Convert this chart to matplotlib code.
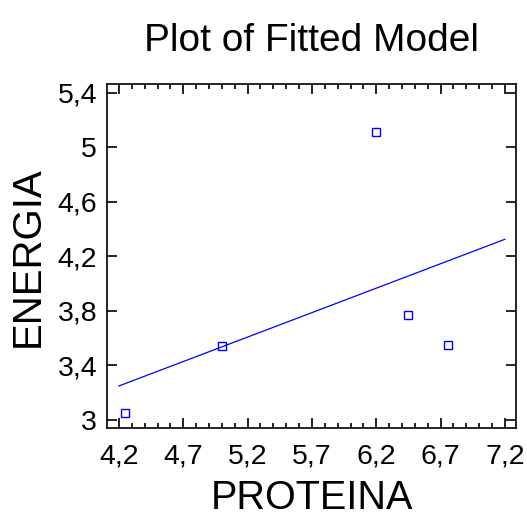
import numpy as np
import matplotlib
matplotlib.use("Agg")
import matplotlib.pyplot as plt
from matplotlib.ticker import FuncFormatter, MultipleLocator

plt.rcParams["font.family"] = ["Liberation Sans", "DejaVu Sans"]

# datos observados
proteina = [4.25, 5.0, 6.2, 6.45, 6.76]
energia = [3.05, 3.54, 5.11, 3.77, 3.55]

# recta ajustada (extremos)
fit_x = [4.2, 7.2]
fit_y = [3.25, 4.325]

x_ticks = [4.2, 4.7, 5.2, 5.7, 6.2, 6.7, 7.2]
y_ticks = [3.0, 3.4, 3.8, 4.2, 4.6, 5.0, 5.4]

fig = plt.figure(figsize=(5.27, 5.18), dpi=100)
ax = fig.add_axes([0.203, 0.173, 0.777, 0.665])

ax.plot(fit_x, fit_y, color="#0000ff", lw=0.9)
ax.plot(proteina, energia, ls="none", marker="s", ms=5.5, mfc="none",
        mec="#0000ff", mew=1.0)

ax.set_xlim(4.107, 7.29)
ax.set_ylim(2.939, 5.464)
ax.set_xticks(x_ticks)
ax.set_yticks(y_ticks)
ax.xaxis.set_minor_locator(MultipleLocator(0.1))

coma = FuncFormatter(lambda v, p: ("%g" % round(v, 2)).replace(".", ","))
ax.xaxis.set_major_formatter(coma)
ax.yaxis.set_major_formatter(coma)

ax.tick_params(which="both", direction="in", top=True, right=True,
               labelsize=20.5, width=1.2, colors="black")
ax.tick_params(which="major", length=7, pad=7)
ax.tick_params(which="minor", length=3.5)
ax.tick_params(axis="x", which="major", pad=11)
for s in ax.spines.values():
    s.set_linewidth(1.2)

ax.set_xlabel("PROTEINA", fontsize=28.5, labelpad=7)
ax.set_ylabel("ENERGIA", fontsize=29, labelpad=8)
ax.set_title("Plot of Fitted Model", fontsize=28, pad=24)

fig.savefig("out.png", dpi=100)
